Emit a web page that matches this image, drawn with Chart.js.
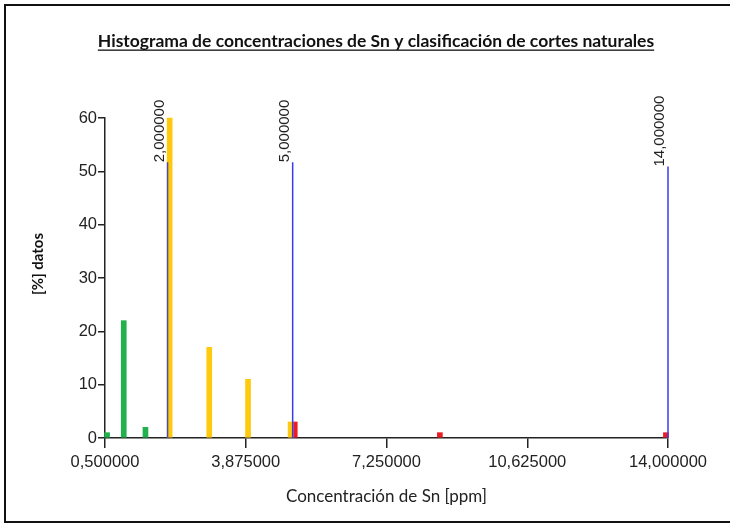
<!DOCTYPE html>
<html>
<head>
<meta charset="utf-8">
<script src="https://cdn.jsdelivr.net/npm/chart.js@4"></script>
<style>
  html, body { margin: 0; padding: 0; background: #fff; overflow: hidden; }
  #cadre {
    position: absolute; left: 4px; top: 4px; right: -40px; height: 515px;
    border-left: 2px solid #111; border-top: 2px solid #111; border-bottom: 2px solid #111;
  }
  #zone { position: absolute; left: 0; top: 0; width: 730px; height: 523px; }
</style>
</head>
<body>
<div id="cadre"></div>
<div id="zone"><canvas id="graphique" width="730" height="523"></canvas></div>
<script>
// Histogramme : centre des classes (ppm) et pourcentage de données
const vertX = [0.55, 0.95, 1.47];
const vertY = [1, 22, 2];
const jauneX = [2.05, 3.0, 3.93, 4.95];
const jauneY = [60, 17, 11, 3];
const rougeX = [5.05, 8.53, 13.95];
const rougeY = [3, 1, 1];

// Cortes naturales (lignes verticales bleues)
const cortesX = [2.0, 5.0, 14.0];
const cortesY = [51.7, 51.7, 50.9];

// Axes
const xMin = 0.5, xMax = 14.0, xPas = 3.375;
const yMin = 0, yMax = 60, yPas = 10;

const titre = "Histograma de concentraciones de Sn y clasificación de cortes naturales";
const titreX = "Concentración de Sn [ppm]";
const titreY = "[%] datos";

function points(xs, ys) {
  return xs.map((x, i) => ({ x: x, y: ys[i] }));
}

function formatNombre(v) {
  return v.toFixed(6).replace(".", ",");
}

// Lignes de coupure : un dataset "line" par coupure
const datasetsCortes = cortesX.map((c, i) => ({
  type: "line",
  data: [{ x: c, y: 0 }, { x: c, y: cortesY[i] }],
  borderColor: i === 0 ? "#4a4ab8" : "#3a3af5",
  borderWidth: 1.5,
  pointRadius: 0,
  fill: false,
  clip: false,
}));

// Plugin pour le titre souligné, le titre de l'axe Y et les étiquettes des coupures
const decor = {
  id: "decor",
  afterDraw(chart) {
    const ctx = chart.ctx;
    const sx = chart.scales.x;
    const sy = chart.scales.y;
    ctx.save();
    ctx.fillStyle = "#111";
    ctx.font = "bold 17.5px Lato, 'Open Sans', sans-serif";
    ctx.textAlign = "center";
    ctx.textBaseline = "alphabetic";
    const cx = 376;
    ctx.fillText(titre, cx, 47);
    const w = ctx.measureText(titre).width;
    ctx.fillRect(cx - w / 2, 49.5, w, 1.3);

    // titre de l'axe Y
    ctx.save();
    ctx.font = "bold 15px Lato, 'Open Sans', sans-serif";
    ctx.translate(38, 264);
    ctx.rotate(-Math.PI / 2);
    ctx.textBaseline = "middle";
    ctx.fillText(titreY, 0, 0);
    ctx.restore();

    ctx.font = "15px 'Liberation Sans', Arial, sans-serif";
    ctx.fillStyle = "#222";
    for (let i = 0; i < cortesX.length; i++) {
      const px = sx.getPixelForValue(cortesX[i]);
      const py = sy.getPixelForValue(cortesY[i]);
      ctx.save();
      ctx.translate(px - 4, py);
      ctx.rotate(-Math.PI / 2);
      ctx.textAlign = "left";
      ctx.fillText(formatNombre(cortesX[i]), 0, 0);
      ctx.restore();
    }
    ctx.restore();
  },
};

const optionsBarres = { barThickness: 5, grouped: false, borderWidth: 0, clip: false };

new Chart(document.querySelector("#graphique"), {
  type: "bar",
  data: {
    datasets: [
      ...datasetsCortes,
      { data: points(vertX, vertY), backgroundColor: "#22b14c", ...optionsBarres },
      { data: points(jauneX, jauneY), backgroundColor: "#ffc90e", ...optionsBarres },
      { data: points(rougeX, rougeY), backgroundColor: "#ed1c24", ...optionsBarres },
    ],
  },
  options: {
    responsive: false,
    animation: false,
    devicePixelRatio: 1,
    layout: { padding: { left: 0, right: 62, top: 118, bottom: 12 } },
    plugins: { legend: { display: false }, tooltip: { enabled: false } },
    scales: {
      x: {
        type: "linear",
        min: xMin,
        max: xMax,
        offset: false,
        afterBuildTicks(scale) {
          const t = [];
          for (let v = xMin; v <= xMax + 1e-9; v += xPas) t.push({ value: v });
          scale.ticks = t;
        },
        afterFit(scale) { scale.height = 73; },
        grid: { offset: false, drawOnChartArea: false, tickLength: 10, color: "#222", lineWidth: 1.5 },
        border: { color: "#222", width: 1.5 },
        ticks: {
          callback: (v) => formatNombre(v),
          color: "#222",
          font: { family: "'Liberation Sans', Arial, sans-serif", size: 16.5 },
          maxRotation: 0,
          padding: 5,
        },
        title: {
          display: true,
          text: titreX,
          color: "#222",
          font: { family: "Lato, 'Open Sans', sans-serif", size: 17 },
          padding: { top: 4, bottom: 4 },
        },
      },
      y: {
        min: yMin,
        max: yMax,
        afterFit(scale) { scale.width = 105; },
        grid: { drawOnChartArea: false, tickLength: 7, color: "#222", lineWidth: 1.5 },
        border: { color: "#222", width: 1.5 },
        ticks: {
          stepSize: yPas,
          color: "#222",
          font: { family: "'Liberation Sans', Arial, sans-serif", size: 16.5 },
          padding: 1,
        },
        title: { display: false },
      },
    },
  },
  plugins: [decor],
});
</script>
</body>
</html>
